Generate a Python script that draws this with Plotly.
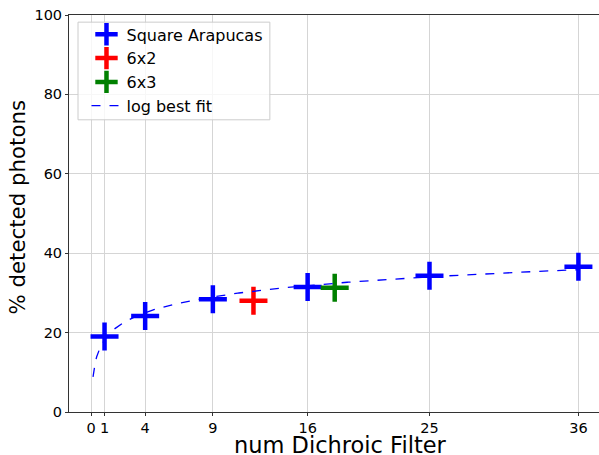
import numpy as np
import plotly.graph_objects as go

sq_x = [1, 4, 9, 16, 25, 36]
sq_y = [19.0, 24.2, 28.4, 31.5, 34.3, 36.6]
x6x2 = [12]
y6x2 = [28.0]
x6x3 = [18]
y6x3 = [31.3]
xticks = [0, 1, 4, 9, 16, 25, 36]
yticks = [0, 20, 40, 60, 80, 100]

# log best fit computed from the Square Arapucas data
b, a = np.polyfit(np.log(sq_x), sq_y, 1)
fit_x = np.linspace(0.15, 36, 400)
fit_y = a + b * np.log(fit_x)

marker_style = dict(symbol="cross-thin", size=20)

fig = go.Figure()
fig.add_trace(go.Scatter(x=sq_x, y=sq_y, mode="markers", name="Square Arapucas",
                         marker=dict(**marker_style, color="blue", line=dict(color="blue", width=4.5))))
fig.add_trace(go.Scatter(x=x6x2, y=y6x2, mode="markers", name="6x2",
                         marker=dict(**marker_style, color="red", line=dict(color="red", width=4.5))))
fig.add_trace(go.Scatter(x=x6x3, y=y6x3, mode="markers", name="6x3",
                         marker=dict(**marker_style, color="green", line=dict(color="green", width=4.5))))
fig.add_trace(go.Scatter(x=fit_x, y=fit_y, mode="lines", name="log best fit",
                         line=dict(color="blue", width=1.3, dash="dash")))

axis_common = dict(showline=True, linecolor="#333333", linewidth=1,
                   showgrid=True, gridcolor="#d5d5d5", gridwidth=1, zeroline=False,
                   ticks="outside", ticklen=3, tickcolor="#333333", automargin=False,
                   tickfont=dict(size=14.5, color="black", family="DejaVu Sans"))

fig.update_layout(
    width=599, height=455,
    margin=dict(l=69, r=0, t=15, b=43),
    paper_bgcolor="white", plot_bgcolor="white",
    font=dict(family="DejaVu Sans", color="black"),
    showlegend=True,
    legend=dict(x=0.033, y=0.994, xanchor="left", yanchor="top",
                bgcolor="rgba(0,0,0,0)", borderwidth=0,
                font=dict(size=16, family="DejaVu Sans")),
    xaxis=dict(**axis_common, mirror=True, range=[-1.625, 37.52], tickvals=xticks),
    yaxis=dict(**axis_common, mirror=False, range=[0, 100], tickvals=yticks),
    shapes=[
        dict(type="rect", xref="paper", yref="paper", x0=0.017, x1=0.379, y0=0.736, y1=0.982,
             line=dict(color="#cccccc", width=1), fillcolor="rgba(255,255,255,0.8)", layer="above"),
    ],
    annotations=[
        dict(text="num Dichroic Filter", xref="paper", yref="paper", x=0.513, y=0,
             xanchor="center", yanchor="middle", yshift=-32.5, showarrow=False,
             font=dict(size=22.5, family="DejaVu Sans", color="black")),
        dict(text="% detected photons", xref="paper", yref="paper", x=0, y=0.515,
             xanchor="center", yanchor="middle", xshift=-51, textangle=-90, showarrow=False,
             font=dict(size=21.3, family="DejaVu Sans", color="black")),
    ],
)

fig.write_html("out.html", config={"displayModeBar": False},
               post_script="document.body.style.margin='0';document.body.style.overflow='hidden';")
